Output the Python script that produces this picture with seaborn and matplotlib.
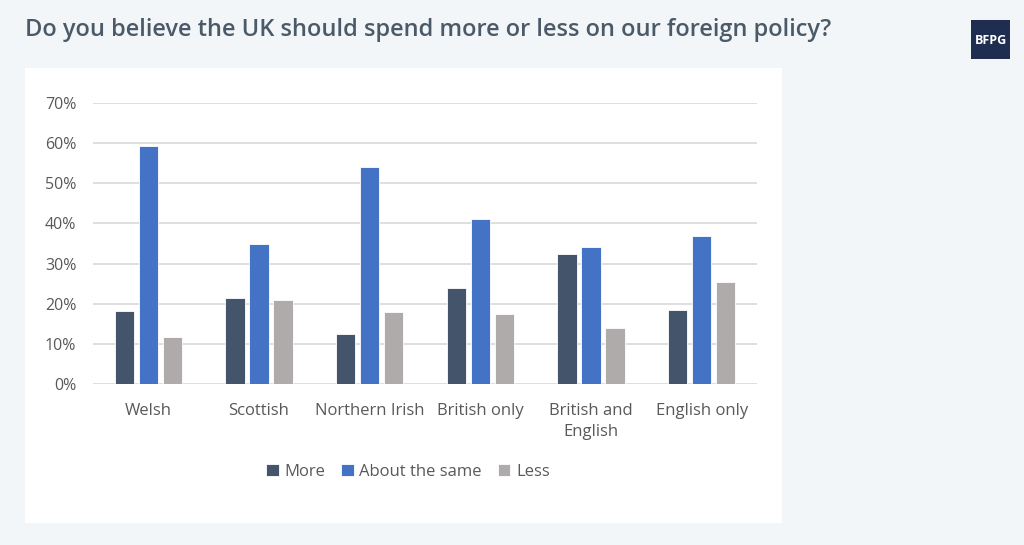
import matplotlib
matplotlib.use("Agg")
import matplotlib.pyplot as plt
import seaborn as sns
import pandas as pd
from matplotlib.patches import FancyBboxPatch, Rectangle

categories = ["Welsh", "Scottish", "Northern Irish", "British only", "British and\nEnglish", "English only"]
more = [18.3, 21.3, 12.4, 23.9, 32.5, 18.4]
about_same = [59.2, 35.0, 54.0, 41.2, 34.2, 36.8]
less = [11.6, 21.0, 18.0, 17.5, 14.0, 25.5]
series = ["More", "About the same", "Less"]
colors = ["#44546a", "#4472c4", "#afabab"]
yticks = [0, 10, 20, 30, 40, 50, 60, 70]

rows = []
for i, c in enumerate(categories):
    for s, vals in zip(series, [more, about_same, less]):
        rows.append({"cat": c, "series": s, "value": vals[i]})
df = pd.DataFrame(rows)

sns.set_theme(style="white")
plt.rcParams["font.family"] = ["Open Sans", "DejaVu Sans"]

W, H = 1024, 545
fig = plt.figure(figsize=(W / 100, H / 100), dpi=100)
fig.patch.set_facecolor("#f2f6f9")

# white panel
fig.add_artist(Rectangle((25 / W, 1 - 523 / H), (782 - 25) / W, (523 - 68) / H,
                         transform=fig.transFigure, facecolor="white", edgecolor="none", zorder=0))

ax = fig.add_axes([93 / W, 1 - 384 / H, (757 - 93) / W, (384 - 103) / H])
ax.set_facecolor("white")
sns.barplot(data=df, x="cat", y="value", hue="series", palette=colors, ax=ax,
            width=0.65, gap=0.2, order=categories, hue_order=series, legend=True,
            saturation=1, edgecolor="white", linewidth=0.6)
ax.set_ylim(0, 70)
ax.set_xlim(-0.5, 5.5)
ax.set_yticks(yticks)
ax.set_yticklabels([f"{t}%" for t in yticks], fontsize=11.5, color="#595959")
ax.tick_params(axis="y", length=0, pad=12)
ax.tick_params(axis="x", length=0, pad=14)
for lbl in ax.get_xticklabels():
    lbl.set_fontsize(12)
    lbl.set_color("#595959")
    lbl.set_linespacing(1.35)
ax.set_xlabel("")
ax.set_ylabel("")
ax.grid(axis="y", color="#d9d9d9", linewidth=1.2)
ax.set_axisbelow(True)
for sp in ax.spines.values():
    sp.set_visible(False)

leg = ax.legend(loc="center", bbox_to_anchor=(408 / W, 1 - 472 / H), bbox_transform=fig.transFigure,
                ncol=3, frameon=False, fontsize=12, handlelength=0.75, handleheight=0.75,
                handletextpad=0.35, columnspacing=0.95)
for t in leg.get_texts():
    t.set_color("#595959")

fig.text(25 / W, 1 - 30 / H, "Do you believe the UK should spend more or less on our foreign policy?",
         fontsize=17, fontweight="semibold", color="#4b5a68", va="center", ha="left")

# logo
fig.add_artist(FancyBboxPatch((971 / W, 1 - 59 / H), 39 / W, 39 / H, boxstyle="square,pad=0",
                              transform=fig.transFigure, facecolor="#1f2d50", edgecolor="none"))
fig.text(990.5 / W, 1 - 40 / H, "BFPG", fontsize=9, fontweight="bold", color="white",
         ha="center", va="center")

fig.savefig("out.png", dpi=100, facecolor=fig.get_facecolor())
